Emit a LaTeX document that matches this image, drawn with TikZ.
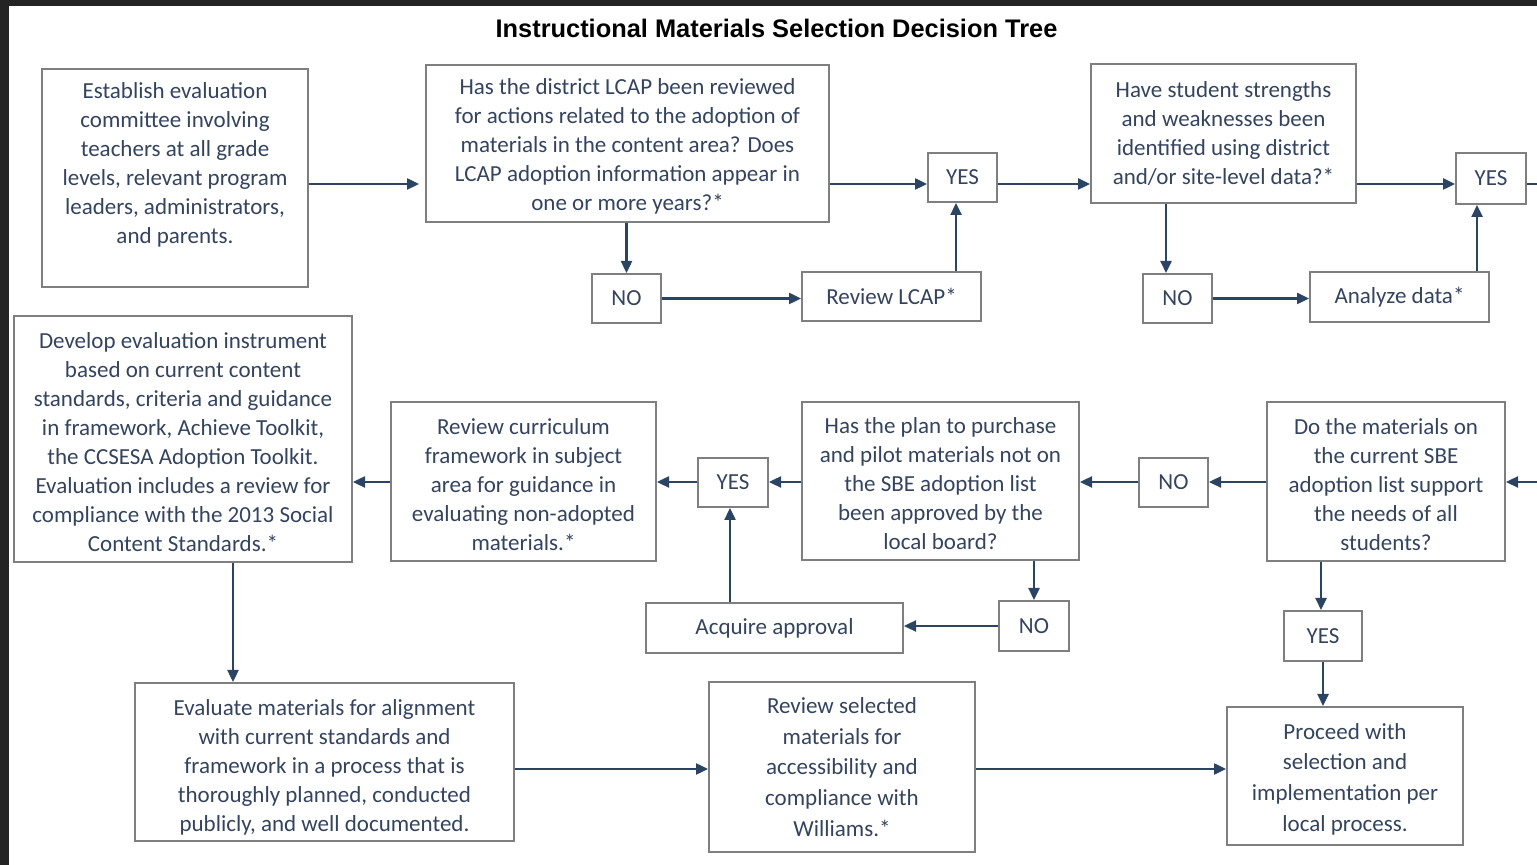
\documentclass[tikz,border=0pt]{standalone}
\usepackage{fontspec}
\setmainfont{Carlito}
\newfontfamily\titlefont{Liberation Sans}
\usetikzlibrary{arrows.meta,calc}
\definecolor{txt}{HTML}{34445F}
\definecolor{bord}{HTML}{7F7F7F}
\definecolor{arrc}{HTML}{2B4464}
\definecolor{framec}{HTML}{242424}
\newcommand\hitop{\rule{0pt}{11pt}}
\newcommand\xtop{\rule{0pt}{13.5pt}}
\begin{document}
\begin{tikzpicture}[x=0.5pt,y=-0.5pt,
  box/.style={draw=bord,line width=1pt,inner sep=0pt,align=center,text=txt,
    font=\fontsize{11.5}{14.5}\selectfont},
  wbox/.style={box,font=\fontsize{11.5}{15.35}\selectfont},
  bx/.style n args={4}{at={({(#1+#3)/2},{(#2+#4)/2})},
    minimum width={(#3-#1)*0.5pt},minimum height={(#4-#2)*0.5pt}},
  arr/.style={draw=arrc,line width=1.2pt,-{Triangle[length=6pt,width=5.5pt]}},
  ln/.style={draw=arrc,line width=1.2pt}]
\useasboundingbox (0,0) rectangle (1537,865);
\fill[white] (0,0) rectangle (1537,865);
\fill[framec] (0,0) rectangle (1537,6);
\fill[framec] (0,0) rectangle (9,865);

\node[font=\titlefont\bfseries\fontsize{12.7}{15}\selectfont,text=black] (title) at (776.5,28)
  {Instructional Materials Selection Decision Tree};

% row 1
\node[box,bx={42}{69}{308}{287}] (est) {Establish evaluation\\committee involving\\teachers at all grade\\levels, relevant program\\leaders, administrators,\\and parents.\\\mbox{}};
\node[box,bx={426}{65}{829}{222}] (lcap) {\hitop Has the district LCAP been reviewed\\for actions related to the adoption of\\materials in the content area? Does\\LCAP adoption information appear in\\one or more years?*};
\node[box,bx={928}{153}{997}{202}] (yes1) {YES};
\node[box,bx={592}{274}{661}{323}] (no1) {NO};
\node[box,bx={802}{272}{981}{321}] (revl) {Review LCAP*};
\node[box,bx={1091}{64}{1356}{203}] (str) {Have student strengths\\and weaknesses been\\identified using district\\and/or site-level data?*};
\node[box,bx={1456}{153}{1526}{204}] (yes2) {YES};
\node[box,bx={1143}{274}{1212}{323}] (no2) {NO};
\node[box,bx={1310}{272}{1489}{322}] (ana) {Analyze data*};

% row 2
\node[box,bx={14}{316}{352}{562}] (dev) {\hitop Develop evaluation instrument\\based on current content\\standards, criteria and guidance\\in framework, Achieve Toolkit,\\the CCSESA Adoption Toolkit.\\Evaluation includes a review for\\compliance with the 2013 Social\\Content Standards.*};
\node[box,bx={391}{402}{656}{561}] (rcur) {\hitop Review curriculum\\framework in subject\\area for guidance in\\evaluating non-adopted\\materials.*};
\node[box,bx={698}{458}{768}{507}] (yes3) {YES};
\node[box,bx={802}{402}{1079}{560}] (plan) {\hitop Has the plan to purchase\\and pilot materials not on\\the SBE adoption list\\been approved by the\\local board?};
\node[box,bx={1139}{458}{1208}{507}] (no3) {NO};
\node[box,bx={1267}{402}{1505}{561}] (dom) {\hitop Do the materials on\\the current SBE\\adoption list support\\the needs of all\\students?};
\node[box,bx={999}{601}{1069}{651}] (no4) {NO};
\node[box,bx={646}{603}{903}{653}] (acq) {Acquire approval};
\node[box,bx={1284}{611}{1362}{661}] (yes4) {YES};

% row 3
\node[box,bx={135}{683}{514}{841}] (eva) {\xtop Evaluate materials for alignment\\with current standards and\\framework in a process that is\\thoroughly planned, conducted\\publicly, and well documented.};
\node[wbox,bx={709}{682}{975}{852}] (rsel) {Review selected\\materials for\\accessibility and\\compliance with\\Williams.*};
\node[wbox,bx={1227}{707}{1463}{845}] (proc) {\hitop Proceed with\\selection and\\implementation per\\local process.};

% helper coordinates
\coordinate (r1) at (0,184);
\coordinate (r2) at (0,482);
\coordinate (r3) at (0,769);
\coordinate (edgeA) at (1537,184);
\coordinate (edgeB) at (1537,482);
\coordinate (x1) at (956,0);
\coordinate (x2) at (1166,0);
\coordinate (x3) at (1477,0);
\coordinate (x4) at (730,0);
\coordinate (x5) at (233,0);
\coordinate (x6) at (1321,0);

% connectors row 1
\draw[arr,shorten >=3pt] (est.east |- r1) -- (lcap.west |- r1);
\draw[arr] (lcap.east |- r1) -- (yes1.west |- r1);
\draw[arr] (no1.north |- lcap.south) -- (no1.north);
\draw[arr] (no1.east) -- (revl.west |- no1.east);
\draw[arr] (revl.north -| x1) -- (yes1.south -| x1);
\draw[arr] (yes1.east |- r1) -- (str.west |- r1);
\draw[arr] (str.east |- r1) -- (yes2.west |- r1);
\draw[arr] (str.south -| x2) -- (no2.north -| x2);
\draw[arr] (no2.east) -- (ana.west |- no2.east);
\draw[arr] (ana.north -| x3) -- (yes2.south -| x3);
\draw[ln] (yes2.east |- r1) -- (edgeA);

% connectors row 2
\draw[arr] (edgeB) -- (dom.east |- r2);
\draw[arr] (dom.west |- r2) -- (no3.east |- r2);
\draw[arr] (no3.west |- r2) -- (plan.east |- r2);
\draw[arr] (plan.west |- r2) -- (yes3.east |- r2);
\draw[arr] (yes3.west |- r2) -- (rcur.east |- r2);
\draw[arr] (rcur.west |- r2) -- (dev.east |- r2);
\draw[arr] (no4.north |- plan.south) -- (no4.north);
\draw[arr] (no4.west) -- (acq.east |- no4.west);
\draw[arr] (acq.north -| x4) -- (yes3.south -| x4);
\draw[arr] (dom.south -| x6) -- (yes4.north -| x6);
\draw[arr] (yes4.south) -- (proc.north -| yes4.south);
\draw[arr] (dev.south -| x5) -- (eva.north -| x5);

% connectors row 3
\draw[arr] (eva.east |- r3) -- (rsel.west |- r3);
\draw[arr] (rsel.east |- r3) -- (proc.west |- r3);
\end{tikzpicture}
\end{document}
